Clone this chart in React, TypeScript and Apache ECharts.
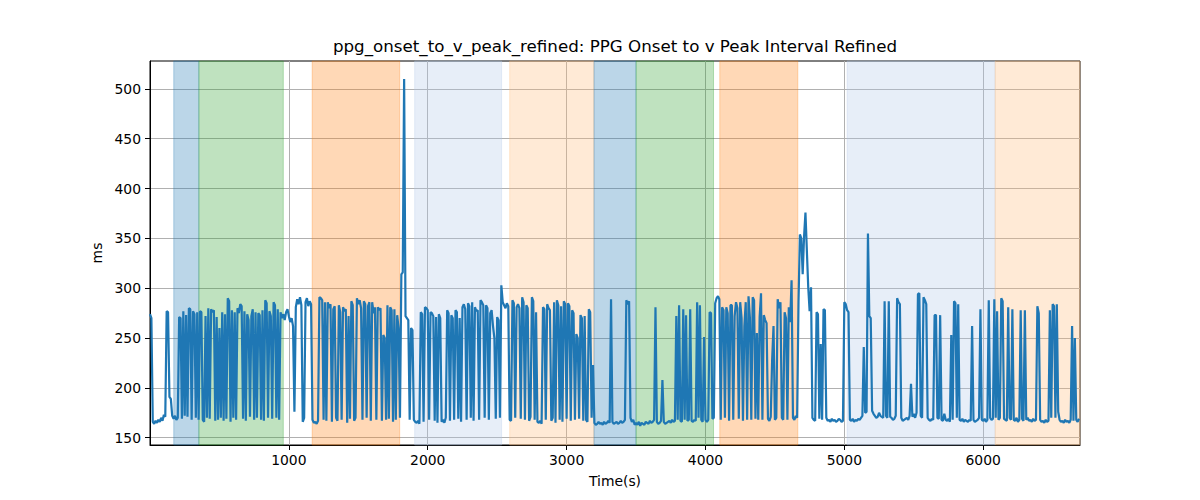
import React, { useEffect, useRef } from "react";
import * as echarts from "echarts";

// Sampling step of the series (seconds); each segment lists values from its start time.
const SAMPLE_STEP = 10;

const seg0Start = 0;
const seg0Values = [274, 270, 166, 164, 167, 165, 168, 166, 170, 167, 173, 171, 277, 276, 191, 189, 172];

const seg1Start = 170;
const seg1Values = [169, 172, 168, 170, 271, 270, 169, 277, 172, 273, 171, 280, 279, 168, 277, 274, 170, 276, 168];

const seg2Start = 360;
const seg2Values = [
  277, 276, 168, 166, 272, 170, 280, 169, 279, 276, 278, 167, 271, 168, 260, 170, 276, 167, 274, 169,
  290, 287, 166, 278, 170, 276, 168, 280, 275, 284, 282, 169, 277, 167, 274, 268, 171, 272, 279, 168,
  276, 170, 275, 273, 168, 278, 167, 288, 285, 170, 277, 272, 169, 286, 283, 170, 279, 168, 276, 270,
];

const seg3Start = 960;
const seg3Values = [274, 268, 276, 279, 272, 266, 270, 262, 176, 281, 289, 284, 291, 283, 166, 170, 286, 290, 282, 287, 284];

const seg4Start = 1170;
const seg4Values = [
  168, 165, 166, 164, 167, 291, 290, 288, 168, 286, 167, 286, 280, 284, 166, 279, 282, 170, 167, 283,
  276, 168, 281, 277, 279, 165, 272, 169, 287, 283, 167, 170, 290, 284, 288, 280, 168, 287, 284, 170,
  282, 286, 167, 286, 275, 281, 168, 281, 278, 280, 167, 253, 250, 168, 283, 169, 281, 278, 166, 279,
  168, 273, 260,
];

const seg5Start = 1800;
const seg5Values = [170, 314, 316, 510, 272, 270, 268, 168, 260, 258, 168];

const seg6Start = 1910;
const seg6Values = [
  166, 165, 167, 164, 276, 274, 166, 281, 280, 278, 168, 276, 275, 272, 167, 271, 165, 274, 270, 166,
  168, 165, 170, 278, 275, 167, 273, 270, 168, 278, 276, 169, 270, 166, 281, 284, 279, 168, 285, 282,
  170, 286, 167, 281, 277, 278, 168, 288, 286, 283, 170, 283, 280, 168, 275, 278, 262, 250, 169, 271,
  268, 170, 303,
];

const seg7Start = 2540;
const seg7Values = [
  286, 283, 280, 285, 282, 168, 167, 288, 285, 170, 281, 284, 280, 169, 291, 286, 168, 283, 280, 167,
  171, 291, 287, 168, 276, 166, 165, 167, 164, 281, 279, 168, 284, 280, 278, 167, 170, 286, 165, 288,
  283, 168, 282, 166, 287, 284, 169, 285, 282, 167, 278, 275, 168, 254, 250, 169, 273, 270, 167, 272,
  168, 166, 279, 276, 170, 223,
];

const seg8Start = 3200;
const seg8Values = [
  165, 163, 164, 166, 164, 165, 163, 166, 164, 165, 167, 165, 289, 166, 164, 165, 166, 164, 165, 167,
  165, 166, 168, 288, 284, 287, 170, 166, 168, 163,
];

const seg9Start = 3500;
const seg9Values = [
  165, 163, 166, 162, 165, 164, 163, 166, 165, 164, 167, 165, 166, 168, 281, 166, 164, 165, 167, 208,
  166, 164, 165, 166, 167, 165, 168, 166, 167, 272, 168, 283, 167, 166, 279, 168, 273, 167, 168, 279,
  167, 166, 168, 167, 286, 170, 283, 168, 166, 251, 168, 166, 168, 276, 275, 169,
];

const seg10Start = 4060;
const seg10Values = [170, 285, 290, 292, 289];

const seg11Start = 4110;
const seg11Values = [
  168, 281, 278, 170, 281, 275, 167, 283, 283, 168, 272, 286, 280, 169, 286, 270, 167, 262, 286, 168,
  292, 270, 168, 291, 288, 169, 255, 168, 271, 295, 168, 273, 268, 265, 169, 167, 171, 228, 262, 168,
  170, 289, 280, 286, 170, 168, 276, 270, 168, 281, 266, 308, 170, 168, 172, 170,
];

const seg12Start = 4670;
const seg12Values = [
  286, 354, 350, 314, 352, 376, 338, 301, 277, 301, 170, 168, 167, 276, 274, 169, 244, 168, 279, 278,
  170, 167, 168, 166, 169, 167, 168, 166, 167, 169, 168, 166, 167, 286, 284,
];

const seg13Start = 5020;
const seg13Values = [
  278, 276, 168, 167, 169, 166, 168, 167, 169, 168, 170, 172, 241, 175, 176, 355, 272, 270, 177, 174,
  172, 170, 171, 175, 172, 171, 170, 287, 172, 170, 287, 171, 170, 168, 169, 172, 290, 286, 284, 170,
  167, 168, 169, 170, 168, 172, 204, 171, 174, 170, 175, 294, 295, 172, 170, 291, 288, 284, 170, 168,
  167, 169, 168, 273, 273, 170, 169, 273, 168, 167, 174, 168, 167, 169, 166, 253, 168, 287, 285, 170,
  284, 168, 167, 169, 166, 168, 167, 166, 168, 167, 262, 168, 166, 167, 168, 170, 279, 168, 167, 169,
  166, 168, 288, 170, 168, 169, 289,
];

const seg14Start = 6090;
const seg14Values = [
  170, 277, 168, 170, 290, 287, 169, 168, 167, 281, 170, 168, 279, 168, 167, 170, 166, 168, 278, 169,
  167, 278, 168, 170, 167, 168, 166, 169, 167, 168, 282, 275, 168, 166, 167, 165, 168, 166, 167, 278,
  170, 284, 282, 170, 284, 176, 168, 166, 167, 165, 168, 166, 167, 165, 168, 262, 167, 250, 168, 166,
  169,
];

const segmentStarts = [
  seg0Start, seg1Start, seg2Start, seg3Start, seg4Start, seg5Start, seg6Start, seg7Start,
  seg8Start, seg9Start, seg10Start, seg11Start, seg12Start, seg13Start, seg14Start,
];
const segmentValues = [
  seg0Values, seg1Values, seg2Values, seg3Values, seg4Values, seg5Values, seg6Values, seg7Values,
  seg8Values, seg9Values, seg10Values, seg11Values, seg12Values, seg13Values, seg14Values,
];

// Shaded intervals
const bandStarts = [171, 352, 1168, 1906, 2590, 3197, 3500, 4103, 5020, 6086];
const bandEnds = [352, 960, 1798, 2532, 3197, 3500, 4058, 4665, 6086, 6697];
const bandColors = [
  "rgba(31,119,180,0.3)",
  "rgba(44,160,44,0.3)",
  "rgba(255,127,14,0.3)",
  "rgba(174,199,232,0.3)",
  "rgba(255,187,120,0.3)",
  "rgba(31,119,180,0.3)",
  "rgba(44,160,44,0.3)",
  "rgba(255,127,14,0.3)",
  "rgba(174,199,232,0.3)",
  "rgba(255,187,120,0.3)",
];

const xTicks = [1000, 2000, 3000, 4000, 5000, 6000];
const yTicks = [150, 200, 250, 300, 350, 400, 450, 500];
const xMin = 0;
const xMax = 6697;
const yMin = 142.7;
const yMax = 528;

const TITLE = "ppg_onset_to_v_peak_refined: PPG Onset to v Peak Interval Refined";
const FONT = "DejaVu Sans";

export default function App() {
  const ref = useRef<HTMLDivElement>(null);

  useEffect(() => {
    if (!ref.current) return;
    const chart = echarts.init(ref.current, undefined, { renderer: "svg" });

    const lineData: number[][] = [];
    segmentStarts.forEach((s, si) => {
      segmentValues[si].forEach((v, k) => {
        lineData.push([s + k * SAMPLE_STEP, v]);
      });
    });

    const areas = bandStarts.map((s, i) => [
      { xAxis: s, itemStyle: { color: bandColors[i], borderColor: bandColors[i], borderWidth: 1 } },
      { xAxis: bandEnds[i] },
    ]);

    chart.setOption({
      animation: false,
      title: {
        text: TITLE,
        left: 610,
        top: 32,
        textAlign: "center",
        textStyle: { fontFamily: FONT, fontSize: 16.7, fontWeight: "normal", color: "#000" },
      },
      grid: {
        left: 150,
        right: 120,
        top: 61,
        bottom: 55,
        show: true,
        borderColor: "#000",
        borderWidth: 1,
        backgroundColor: "transparent",
      },
      xAxis: {
        type: "value",
        min: xMin,
        max: xMax,
        interval: 1000,
        name: "Time(s)",
        nameLocation: "middle",
        nameGap: 29,
        nameTextStyle: { fontFamily: FONT, fontSize: 13.9, color: "#000" },
        axisLine: { show: true, onZero: false, lineStyle: { color: "#000", width: 1 } },
        axisTick: { show: true, length: 5, customValues: xTicks, lineStyle: { color: "#000" } },
        axisLabel: {
          customValues: xTicks,
          margin: 8,
          color: "#000",
          fontSize: 13.9,
          fontFamily: FONT,
          formatter: (v: number) => String(v),
        },
        splitLine: { show: true, lineStyle: { color: "#b0b0b0", width: 1 } },
      },
      yAxis: {
        type: "value",
        min: yMin,
        max: yMax,
        splitNumber: 8,
        name: "ms",
        nameLocation: "middle",
        nameGap: 42,
        nameRotate: 90,
        nameTextStyle: { fontFamily: FONT, fontSize: 13.9, color: "#000" },
        axisLine: { show: true, lineStyle: { color: "#000", width: 1 } },
        axisTick: { show: true, length: 5, customValues: yTicks, lineStyle: { color: "#000" } },
        axisLabel: {
          customValues: yTicks,
          margin: 9,
          color: "#000",
          fontSize: 13.9,
          fontFamily: FONT,
          formatter: (v: number) => String(v),
        },
        splitLine: { show: true, lineStyle: { color: "#b0b0b0", width: 1 } },
      },
      series: [
        {
          type: "line",
          data: [],
          silent: true,
          markArea: { silent: true, data: areas },
        },
        {
          type: "line",
          data: lineData,
          showSymbol: false,
          symbol: "none",
          lineStyle: { color: "#1f77b4", width: 2.2 },
          itemStyle: { color: "#1f77b4" },
        },
      ],
    });

    return () => chart.dispose();
  }, []);

  return (
    <div
      ref={ref}
      style={{ position: "absolute", left: 0, top: 0, width: 1200, height: 500, background: "#fff" }}
    />
  );
}
